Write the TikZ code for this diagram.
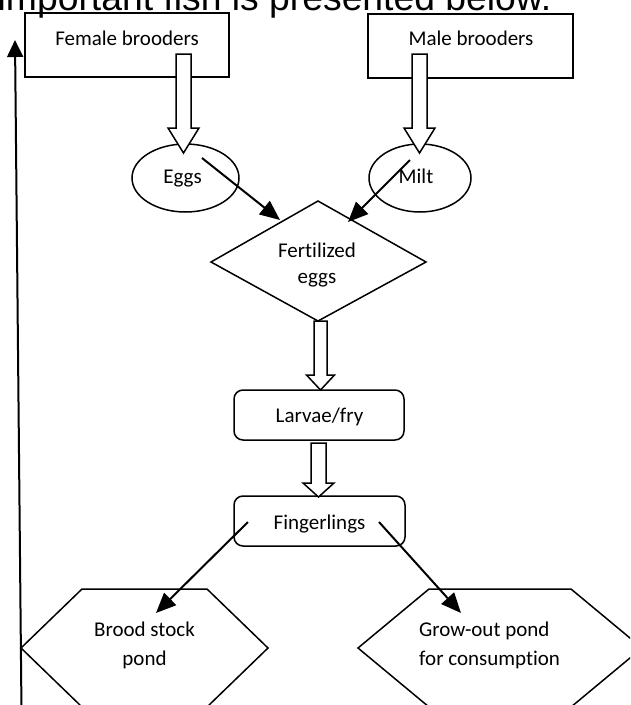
\documentclass[tikz,border=0pt]{standalone}
\usepackage{fontspec}
\setmainfont{Carlito}[Ligatures=NoCommon]
\newfontfamily\headfont{Liberation Sans}
\usetikzlibrary{arrows.meta,shapes.geometric}
\newcommand{\blockarr}[6]{%
  \draw[blk] (#1-#5,#2) -- (#1+#5,#2) -- (#1+#5,#3) -- (#1+#6,#3) -- (#1,#4)
    -- (#1-#6,#3) -- (#1-#5,#3) -- cycle;}
\begin{document}
\begin{tikzpicture}[x=1pt,y=-1pt,
  every node/.style={font=\fontsize{21}{26}\selectfont},
  box/.style={draw,line width=1.5pt,inner sep=0pt},
  shapeline/.style={draw,line width=1.5pt,line join=miter},
  lbl/.style={anchor=base,inner sep=0pt},
  blk/.style={draw,line width=1.5pt,fill=white,line join=miter},
  conn/.style={line width=2pt,-{Triangle[length=20pt,width=17pt]}},
  loopconn/.style={line width=2pt,-{Triangle[length=17pt,width=16pt]}}
]
\useasboundingbox (0,0) rectangle (630,705);
\clip (0,0) rectangle (630,705);

% heading (cut off at the top)
\node[anchor=base west,inner sep=0pt,font=\headfont\fontsize{37.3}{40}\selectfont]
  (heading) at (-2.5,10.5) {important fish is presented below.};

% brooders
\node[box,minimum width=204pt,minimum height=64pt] (female) at (127,45) {};
\node[lbl] (femaletxt) at (127,45) {Female brooders};
\node[box,minimum width=205pt,minimum height=64pt] (male) at (470.5,46) {};
\node[lbl] (maletxt) at (471,45) {Male brooders};

% eggs and milt
\node[box,ellipse,minimum width=107pt,minimum height=68pt] (eggs) at (185.5,178) {};
\node[lbl] (eggstxt) at (182.5,183) {Eggs};
\node[box,ellipse,minimum width=102pt,minimum height=68pt] (milt) at (420,178) {};
\node[lbl] (milttxt) at (416,183) {Milt};

% fertilized eggs (diamond)
\draw[shapeline] (318,201) coordinate (dtop) -- (426,262) coordinate (dright)
  -- (318,321) coordinate (dbottom) -- (211,262) coordinate (dleft) -- cycle;
\node[lbl] (ferttxt) at (317,257)
  {\begin{tabular}[t]{@{}c@{}}Fertilized\\eggs\end{tabular}};

% larvae and fingerlings
\node[box,rounded corners=9pt,minimum width=170pt,minimum height=50pt] (larvae) at (319,415) {};
\node[lbl] (larvaetxt) at (319.5,422) {Larvae/fry};
\node[box,rounded corners=9pt,minimum width=171pt,minimum height=50pt] (finger) at (319.5,521) {};
\node[lbl] (fingertxt) at (319.5,529) {Fingerlings};

% ponds (hexagons)
\draw[shapeline] (82,589) -- (207,589) -- (268,648) -- (207,707) -- (82,707) -- (21,648) -- cycle;
\node[lbl,font=\fontsize{21}{29}\selectfont] (broodtxt) at (144.5,636)
  {\begin{tabular}[t]{@{}c@{}}Brood stock\\pond\end{tabular}};
\draw[shapeline] (429,589) -- (571,589) -- (642,648) -- (571,707) -- (429,707) -- (358,648) -- cycle;
\node[anchor=base west,inner sep=0pt,font=\fontsize{21}{29}\selectfont] (growtxt) at (419,636)
  {\begin{tabular}[t]{@{}l@{}}Grow-out pond\\for consumption\end{tabular}};

% hollow block arrows
\blockarr{183.5}{54}{128}{153}{7.5}{15.5}
\blockarr{419.5}{54}{128}{153}{7.5}{15.5}
\blockarr{320.5}{321}{375}{390}{6.5}{14}
\blockarr{318.5}{443}{483}{497}{7.5}{15.5}

% black connectors
\coordinate (eggsout) at (202,158);
\coordinate (eggsin) at (280,220);
\coordinate (miltout) at (410,160);
\coordinate (miltin) at (348,222);
\coordinate (fingl) at (248,522);
\coordinate (broodin) at (156,613);
\coordinate (fingr) at (379,522);
\coordinate (growin) at (461,613);
\draw[conn] (eggsout) -- (eggsin);
\draw[conn] (miltout) -- (miltin);
\draw[conn] (fingl) -- (broodin);
\draw[conn] (fingr) -- (growin);

% long return arrow on the left
\coordinate (loopstart) at (21.5,712);
\coordinate (loopend) at (15,40);
\draw[loopconn] (loopstart) -- (loopend);
\end{tikzpicture}
\end{document}
